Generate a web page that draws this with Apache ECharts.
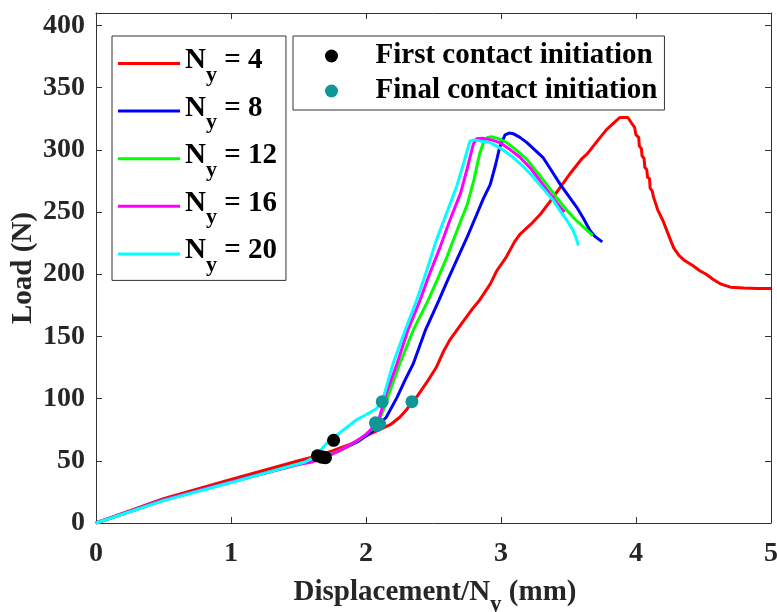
<!DOCTYPE html>
<html>
<head>
<meta charset="utf-8">
<script src="https://cdn.jsdelivr.net/npm/echarts@6/dist/echarts.min.js"></script>
<style>
  html, body { margin: 0; padding: 0; background: #fff; }
  #chart { width: 777px; height: 612px; }
</style>
</head>
<body>
<div id="chart"></div>
<script>
// Axis ranges and ticks
const xMin = 0, xMax = 5, xStep = 1;
const yMin = 0, yMax = 410, yStep = 50;

// Load–displacement curves, one per mesh density [displacement/Ny (mm), load (N)]
const ny4 = [[0,0],[0.5,19.5],[1.0,35],[1.5,50],[1.6,53],[1.75,58],[1.9,64],[2.0,70],[2.08,74],
  [2.18,79],[2.25,85],[2.3,91],[2.34,97.5],[2.38,102],[2.45,113],[2.52,125],[2.57,137],[2.62,147],
  [2.7,159],[2.78,171],[2.84,179],[2.92,192],[2.97,203],[3.04,214],[3.1,226],[3.14,232],[3.22,240],
  [3.29,248],[3.36,258],[3.44,270],[3.52,282],[3.6,293],[3.64,297],[3.72,308],[3.78,316],[3.84,322],
  [3.88,326],[3.94,326],[3.97,321],[3.99,318],[4.0,312],[4.02,310],[4.025,303],[4.04,301],[4.045,295],
  [4.06,293],[4.065,286],[4.08,284],[4.085,278],[4.1,277],[4.105,269],[4.12,267],[4.13,262],[4.16,252],
  [4.2,243],[4.25,229],[4.28,221],[4.32,215],[4.36,211],[4.42,207],[4.47,203],[4.52,200],[4.57,196],
  [4.63,192],[4.7,189.6],[4.8,189],[4.9,188.5],[5.0,188.5]];
const ny8 = [[0,0],[0.5,18.5],[1,33],[1.5,47.5],[1.65,52],[1.8,58],[1.95,66],[2.05,74],[2.08,77.4],
  [2.15,85],[2.23,101],[2.29,115],[2.35,128],[2.44,155],[2.54,179],[2.6,194],[2.67,211],[2.75,230],
  [2.82,248],[2.87,261],[2.92,272],[2.96,288],[2.99,302],[3.03,312],[3.06,313.5],[3.09,313],[3.14,310],
  [3.19,306],[3.25,300],[3.31,294],[3.37,284],[3.44,272],[3.5,263],[3.56,254],[3.61,245],[3.66,235],
  [3.7,230],[3.75,226]];
const ny12 = [[0,0],[0.5,18.5],[1,33],[1.5,47.5],[1.65,52],[1.8,58],[1.95,67],[2.04,75],[2.08,79],
  [2.13,91],[2.18,107],[2.25,128],[2.35,155],[2.46,179],[2.53,196],[2.6,214],[2.67,234],[2.75,256],
  [2.8,276],[2.84,296],[2.87,306],[2.9,310],[2.93,310.5],[2.98,309],[3.04,306],[3.1,301],[3.19,292.5],
  [3.26,283],[3.34,272],[3.41,262],[3.49,251],[3.55,244],[3.61,238],[3.68,231]];
const ny16 = [[0,0],[0.5,18.5],[1,33],[1.5,47],[1.6,49],[1.7,53],[1.8,58],[1.9,64],[2.0,71],
  [2.06,78],[2.1,85],[2.15,104],[2.23,128],[2.31,155],[2.4,179],[2.47,200],[2.55,222],[2.62,243],
  [2.7,265],[2.75,285],[2.795,304.5],[2.82,309],[2.86,309.3],[2.93,308],[2.99,305.8],[3.07,300],
  [3.14,294],[3.22,285],[3.29,275],[3.36,265],[3.44,253.7],[3.47,250]];
const ny20 = [[0,0],[0.5,18],[1,32.5],[1.5,47.5],[1.55,49],[1.6,52],[1.66,58],[1.73,66.5],[1.8,72],
  [1.93,83],[2.0,87],[2.08,92],[2.13,101.4],[2.2,128],[2.29,155],[2.375,179],[2.45,203],[2.52,227],
  [2.6,250],[2.67,270],[2.72,288],[2.77,307],[2.8,308],[2.85,307],[2.92,305.8],[3.0,301],[3.09,294],
  [3.17,286],[3.24,278],[3.31,269],[3.39,259],[3.45,249],[3.49,243],[3.53,236],[3.55,231],[3.565,226],
  [3.575,223]];

// Contact initiation markers
const firstContact = [[1.64,54],[1.67,53],[1.70,52.5],[1.68,53],[1.76,66.5]];
const finalContact = [[2.34,97.5],[2.08,78.5],[2.10,79.5],[2.07,80.5],[2.12,97.5]];

const curveNames = ['Ny = 4', 'Ny = 8', 'Ny = 12', 'Ny = 16', 'Ny = 20'];
const curveLabels = ['4', '8', '12', '16', '20'];
const curveData = [ny4, ny8, ny12, ny16, ny20];
const curveColors = ['#ff0000', '#0000ff', '#00ff00', '#ff00ff', '#00ffff'];
const markerNames = ['First contact initiation', 'Final contact initiation'];
const markerColors = ['#000000', '#0f9696'];

const FONT = "'Liberation Serif', 'Times New Roman', serif";
const AXIS_COLOR = '#333333';
const TEXT_COLOR = '#262626';

const chart = echarts.init(document.getElementById('chart'), null, { renderer: 'canvas' });

const baseText = { fontFamily: FONT, fontWeight: 'bold', color: '#000' };

const lineSeries = curveData.map((d, i) => ({
  name: curveNames[i],
  type: 'line',
  data: d,
  showSymbol: false,
  symbol: 'none',
  lineStyle: { color: curveColors[i], width: 3 },
  itemStyle: { color: curveColors[i] },
  z: 2 + i,
  silent: true
}));

const scatterSeries = [firstContact, finalContact].map((d, i) => ({
  name: markerNames[i],
  type: 'scatter',
  data: d,
  symbol: 'circle',
  symbolSize: 13,
  itemStyle: { color: markerColors[i], opacity: 1 },
  z: 10,
  silent: true
}));

const mirrorTick = { show: true, inside: true, length: 6, lineStyle: { color: AXIS_COLOR, width: 1 } };

chart.setOption({
  animation: false,
  backgroundColor: '#fff',
  grid: { left: 96, right: 6, top: 13, bottom: 89, containLabel: false, outerBoundsMode: 'none' },
  xAxis: [{
    type: 'value', min: xMin, max: xMax, interval: xStep,
    axisLine: { show: true, onZero: false, lineStyle: { color: AXIS_COLOR, width: 1 } },
    axisTick: mirrorTick,
    splitLine: { show: false },
    axisLabel: { margin: 17, fontFamily: FONT, fontWeight: 'bold', fontSize: 28, color: TEXT_COLOR },
    name: '{n|Displacement/N}{s|y}{n| (mm)}',
    nameLocation: 'middle',
    nameGap: 55,
    nameMoveOverlap: false,
    nameTextStyle: {
      padding: [0, 0, 0, 3],
      rich: {
        n: { ...baseText, color: TEXT_COLOR, fontSize: 29, lineHeight: 30 },
        s: { ...baseText, color: TEXT_COLOR, fontSize: 23, lineHeight: 20, padding: [25, 0, 0, 0] }
      }
    }
  }, {
    type: 'value', min: xMin, max: xMax, interval: xStep, position: 'top',
    axisLine: { show: true, onZero: false, lineStyle: { color: AXIS_COLOR, width: 1 } },
    axisTick: mirrorTick,
    axisLabel: { show: false },
    splitLine: { show: false }
  }],
  yAxis: [{
    type: 'value', min: yMin, max: yMax, interval: yStep,
    axisLine: { show: true, onZero: false, lineStyle: { color: AXIS_COLOR, width: 1 } },
    axisTick: mirrorTick,
    splitLine: { show: false },
    axisLabel: {
      margin: 11, fontFamily: FONT, fontWeight: 'bold', fontSize: 28, color: TEXT_COLOR,
      formatter: v => (v % yStep === 0 ? String(v) : '')
    },
    name: 'Load (N)',
    nameLocation: 'middle',
    nameRotate: 90,
    nameGap: 58,
    nameMoveOverlap: false,
    nameTextStyle: { fontFamily: FONT, fontWeight: 'bold', fontSize: 29, color: TEXT_COLOR }
  }, {
    type: 'value', min: yMin, max: yMax, interval: yStep, position: 'right',
    axisLine: { show: true, onZero: false, lineStyle: { color: AXIS_COLOR, width: 1 } },
    axisTick: mirrorTick,
    axisLabel: { show: false },
    splitLine: { show: false }
  }],
  legend: [{
    orient: 'vertical',
    left: 112, top: 36,
    data: curveNames.map(n => ({ name: n, icon: 'rect' })),
    itemWidth: 62, itemHeight: 3, itemGap: 2.6,
    padding: [5, 9, 4, 6],
    borderColor: AXIS_COLOR, borderWidth: 1, backgroundColor: '#fff',
    selectedMode: false,
    formatter: name => {
      const i = curveNames.indexOf(name);
      return '{n|N}{s|y}{n| = ' + curveLabels[i] + '}';
    },
    textStyle: {
      ...baseText, fontSize: 29,
      rich: {
        n: { ...baseText, fontSize: 29, lineHeight: 28, padding: [0, 0, 6, 0] },
        s: { ...baseText, fontSize: 22, lineHeight: 20, padding: [23, 0, 0, 0] }
      }
    }
  }, {
    orient: 'vertical',
    left: 293, top: 36,
    data: markerNames.map(n => ({ name: n, icon: 'circle' })),
    itemWidth: 70, itemHeight: 13, itemGap: 5,
    padding: [5, 7, 4, 32],
    borderColor: AXIS_COLOR, borderWidth: 1, backgroundColor: '#fff',
    selectedMode: false,
    textStyle: { ...baseText, fontSize: 29, lineHeight: 30, padding: [0, 0, 0, 4] }
  }],
  series: [...lineSeries, ...scatterSeries]
});
</script>
</body>
</html>
